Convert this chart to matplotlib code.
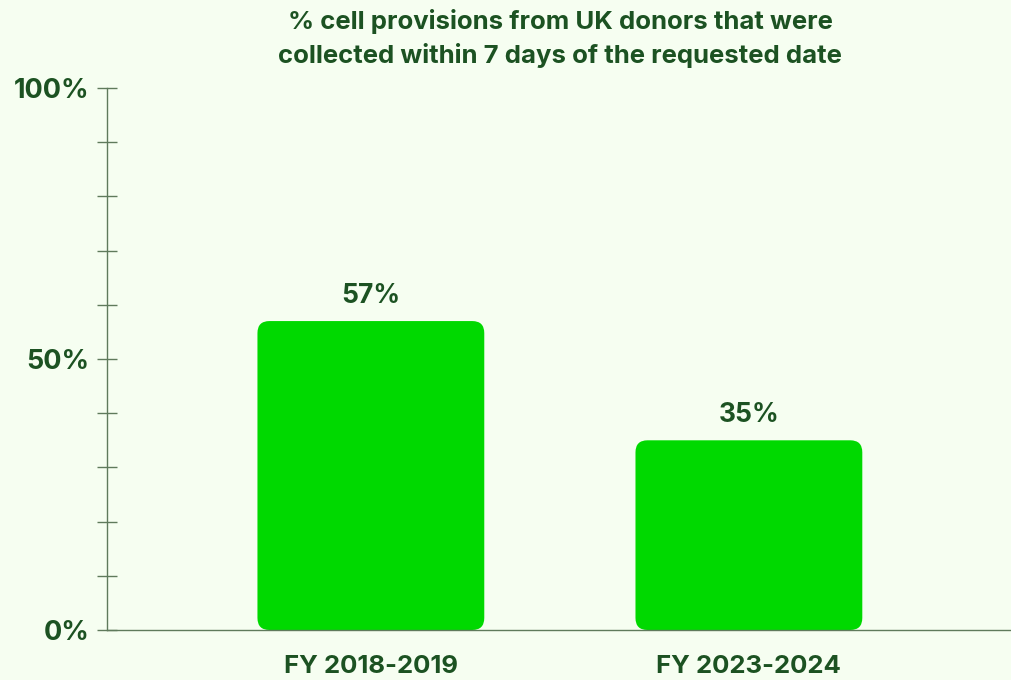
import matplotlib
matplotlib.use("Agg")
import matplotlib.pyplot as plt
from matplotlib.patches import FancyBboxPatch

categories = ["FY 2018-2019", "FY 2023-2024"]
values = [57, 35]
value_labels = ["57%", "35%"]
ytick_vals = [0, 50, 100]
ytick_labels = ["0%", "50%", "100%"]

BG = "#F6FEF1"
BAR = "#00D900"
TXT = "#1C5222"
AX = "#5F7A5C"

plt.rcParams['font.family'] = ['Inter', 'DejaVu Sans']

W, H = 1012, 680
fig = plt.figure(figsize=(W/100, H/100), dpi=100, facecolor=BG)
ax = fig.add_axes([107/W, (H-630)/H, 1-107/W, (630-88)/H], facecolor=BG)

x = list(range(len(categories)))
bars = ax.bar(x, values, width=0.6, color=BAR)
ax.set_xlim(-0.698, 1.696)
ax.set_ylim(0, 100)

# rounded corners
xpp = (1.696+0.698)/(W-107)
ypp = 100/(630-88)
for b in bars:
    b.set_visible(False)
    p = FancyBboxPatch((b.get_x(), 0), b.get_width(), b.get_height(),
                       boxstyle="round,pad=0,rounding_size=%f" % (12*xpp),
                       mutation_aspect=ypp/xpp, facecolor=BAR, edgecolor='none')
    ax.add_patch(p)

for xi, v, lab in zip(x, values, value_labels):
    ax.annotate(lab, (xi, v), xytext=(0, 8.5), textcoords='offset points',
                ha='center', va='bottom', fontsize=19, fontweight='bold', color=TXT)

for s in ['top', 'right']:
    ax.spines[s].set_visible(False)
ax.spines['left'].set_color(AX)
ax.spines['bottom'].set_color(AX)
ax.spines['left'].set_linewidth(1)
ax.spines['bottom'].set_linewidth(1)

ax.set_yticks(range(0, 101, 10))
ax.set_yticklabels([ytick_labels[ytick_vals.index(t)] if t in ytick_vals else "" for t in range(0, 101, 10)])
ax.tick_params(axis='y', direction='inout', length=15, width=1, color=AX,
               labelsize=19.5, labelcolor=TXT, pad=5)
for lab in ax.get_yticklabels():
    lab.set_fontweight('bold')
ax.set_xticks(x)
ax.set_xticklabels(categories)
ax.tick_params(axis='x', length=0, labelsize=18.5, labelcolor=TXT, pad=18)
for lab in ax.get_xticklabels():
    lab.set_fontweight('bold')

fig.text(560/W, 1-39/H, "% cell provisions from UK donors that were\ncollected within 7 days of the requested date",
         ha='center', va='center', fontsize=18.5, fontweight='bold', color=TXT, linespacing=1.45)

fig.savefig("out.png", dpi=100, facecolor=BG)
